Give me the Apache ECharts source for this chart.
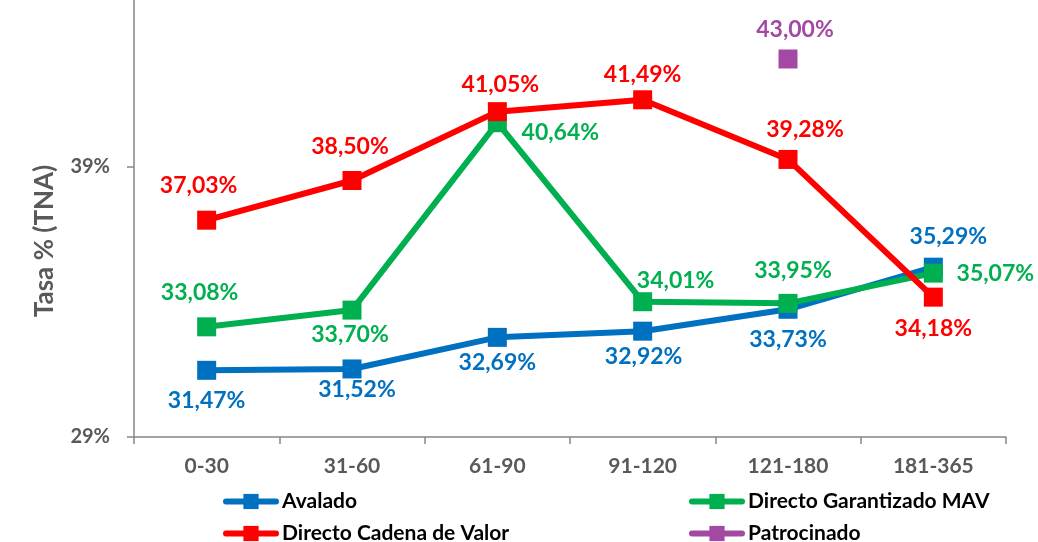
<!DOCTYPE html>
<html><head><meta charset="utf-8">
<script src="https://cdn.jsdelivr.net/npm/echarts@6/dist/echarts.min.js"></script>
<style>html,body{margin:0;padding:0;background:#fff}#c{width:1038px;height:542px}</style>
</head><body><div id="c"></div>
<script>
const categories = ['0-30','31-60','61-90','91-120','121-180','181-365'];
const avalado = [31.47, 31.52, 32.69, 32.92, 33.73, 35.29];
const garantizado = [33.08, 33.70, 40.64, 34.01, 33.95, 35.07];
const cadena = [37.03, 38.50, 41.05, 41.49, 39.28, 34.18];
const patrocinado = [null, null, null, null, 43.00, null];
const yTicks = [29, 39];

// label offsets (style): [dx, dy] from point centre
const offAval = [[0,30],[5,21],[0,25],[1,25],[0,30],[15,-31]];
const offGar = [[-7,-34],[-2,24],[63,10],[33,-21],[5,-33],[62,0]];
const offCad = [[-8,-35],[-2,-34],[3,-27],[0,-25],[17,-30],[0,31]];
const offPat = [null,null,null,null,[7,-29],null];

const GRAY = '#595959';
const AXIS = '#868686';
const FONT = 'Lato, "Open Sans", sans-serif';

function build(vals, offs){
  return vals.map((v,i)=> v==null ? null : ({value: v, label: {offset: offs[i]}}));
}
function fmt(p){ return p.value.toFixed(2).replace('.', ',') + '%'; }

function series(name, color, vals, offs){
  return {
    name, type: 'line', data: build(vals, offs), connectNulls: false,
    symbol: 'rect', symbolSize: 19,
    lineStyle: {color, width: 6}, itemStyle: {color},
    label: {show: true, position: 'inside', formatter: fmt, color,
      fontFamily: FONT, fontWeight: 'bold', fontSize: 23},
    emphasis: {disabled: true}, animation: false
  };
}
function legend(name, left, top){
  return {data: [name], left, top, itemWidth: 50, itemHeight: 19, itemGap: 0,
    selectedMode: false, lineStyle: {width: 6, cap: 'round'},
    textStyle: {color: '#000', fontFamily: FONT, fontWeight: 'bold', fontSize: 21, padding: [0,0,0,1]}};
}

const chart = echarts.init(document.getElementById('c'), null, {renderer: 'canvas'});
chart.setOption({
  animation: false,
  grid: {left: 134, right: 32, top: 0, bottom: 105, containLabel: false},
  xAxis: {type: 'category', data: categories, boundaryGap: true,
    axisLine: {lineStyle: {color: AXIS, width: 1.5}},
    axisTick: {show: true, alignWithLabel: false, length: 7, lineStyle: {color: AXIS, width: 1.5}},
    axisLabel: {color: GRAY, fontFamily: FONT, fontWeight: 'bold', fontSize: 21, margin: 19}},
  yAxis: {type: 'value', min: 29, max: 39 + 167/27, interval: 10,
    splitLine: {show: false},
    axisLine: {show: true, lineStyle: {color: AXIS, width: 1.5}},
    axisTick: {show: true, length: 7, customValues: yTicks, lineStyle: {color: AXIS, width: 1.5}},
    axisLabel: {color: GRAY, fontFamily: FONT, fontWeight: 'bold', fontSize: 20, margin: 24,
      customValues: yTicks, formatter: '{value}%'}},
  legend: [
    legend('Avalado', 218, 486),
    legend('Directo Cadena de Valor', 218, 518),
    legend('Directo Garantizado MAV', 684, 486),
    legend('Patrocinado', 684, 518)
  ],
  graphic: [{type: 'text', x: 45, y: 241, rotation: Math.PI/2, originX: 0, originY: 0,
    style: {text: 'Tasa % (TNA)', fill: GRAY, font: 'bold 26px ' + FONT, align: 'center', verticalAlign: 'middle'}}],
  series: [
    series('Avalado', '#0070C0', avalado, offAval),
    series('Directo Garantizado MAV', '#00B050', garantizado, offGar),
    series('Directo Cadena de Valor', '#FF0000', cadena, offCad),
    series('Patrocinado', '#A349A4', patrocinado, offPat)
  ]
});
</script></body></html>
